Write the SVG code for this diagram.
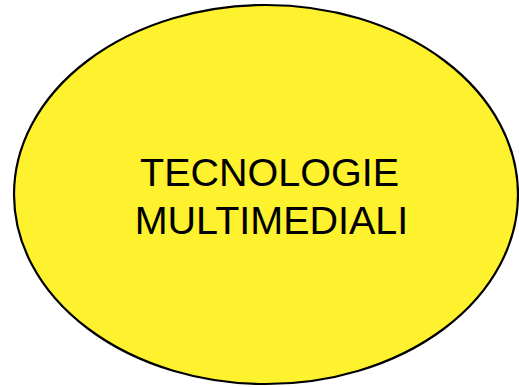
<svg xmlns="http://www.w3.org/2000/svg" width="519" height="387" viewBox="0 0 519 387">
<style>
.node{fill:#FDF22D;stroke:#000;stroke-width:2.2}
.label{font-family:"Liberation Sans",Arial,sans-serif;font-size:39.5px;fill:#000;text-anchor:middle}
</style>
<rect width="519" height="387" fill="#fff"/>
<g id="node-tecnologie">
<ellipse class="node" cx="266" cy="194.5" rx="252" ry="189.5"/>
<text class="label" x="269.5" y="185.5">TECNOLOGIE</text>
<text class="label" x="271.5" y="233.5">MULTIMEDIALI</text>
</g>
<g id="connectors"/>
</svg>
